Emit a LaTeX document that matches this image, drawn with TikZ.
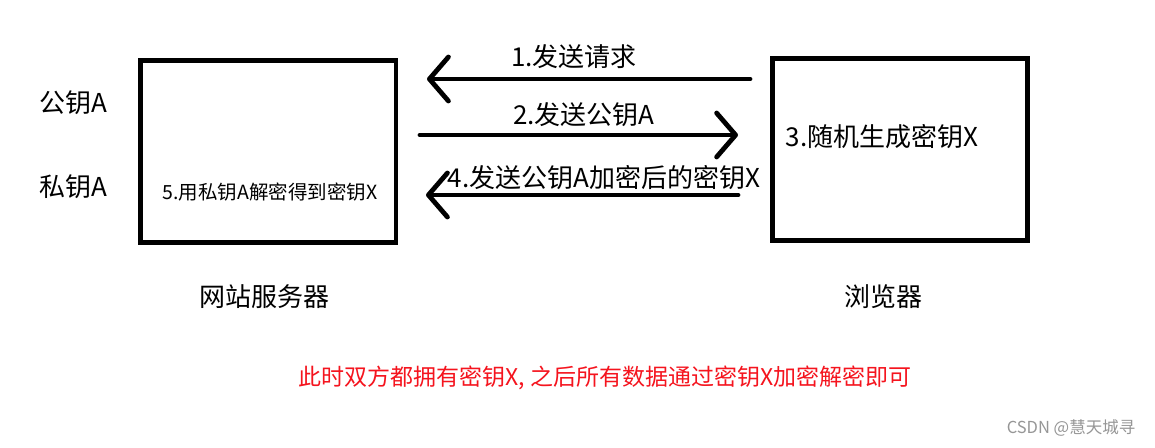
\documentclass[tikz,border=0pt]{standalone}
\usepackage{fontspec}
\setmainfont{Noto Sans CJK SC}
\usetikzlibrary{arrows.meta}
\definecolor{redtxt}{RGB}{245,20,30}
\definecolor{wmgray}{RGB}{150,150,150}
\tikzset{
  boxst/.style={draw=black, line width=4.8pt, inner sep=0pt, outer sep=0pt},
  arr/.style={draw=black, line width=4.8pt, line cap=round,
    -{Straight Barb[length=19pt,width=44pt,round]}},
  big/.style={font=\fontsize{26}{31}\selectfont, inner sep=0pt},
  mid/.style={font=\fontsize{19.5}{23}\selectfont, inner sep=0pt},
}
\begin{document}
\begin{tikzpicture}[x=1pt,y=-1pt]
\useasboundingbox (0,0) rectangle (1155,447);
\fill[white] (0,0) rectangle (1155,447);
% boxes
\node[boxst, minimum width=255.5pt, minimum height=182pt] (server) at (268.25,151.5) {};
\node[boxst, minimum width=255pt, minimum height=182pt] (browser) at (900,149.5) {};
% arrow endpoints
\coordinate (a1s) at (750,79);
\coordinate (a1e) at (427,79);
\coordinate (a2s) at (420,135);
\coordinate (a2e) at (738,135);
\coordinate (a3s) at (738,195);
\coordinate (a3e) at (426,195);
\draw[arr] (a1s) -- (a1e);
\draw[arr] (a2s) -- (a2e);
\draw[arr] (a3s) -- (a3e);
% labels
\node[big] (t1) at (574,57) {1.发送请求};
\node[big] (t2) at (584,115) {2.发送公钥A};
\node[big] (t4) at (604,178) {4.发送公钥A加密后的密钥X};
\node[mid] (t5) at (270,192) {5.用私钥A解密得到密钥X};
\node[big] (t3) at (882,137) {3.随机生成密钥X};
\node[big] (pub) at (73,103) {公钥A};
\node[big] (pri) at (73,187) {私钥A};
\node[big] (srv) at (264,297) {网站服务器};
\node[big] (brw) at (883,297) {浏览器};
\node[font=\fontsize{23}{28}\selectfont, inner sep=0pt, text=redtxt] (note) at (605,378) {此时双方都拥有密钥X, 之后所有数据通过密钥X加密解密即可};
\node[font=\fontsize{16.5}{20}\selectfont, inner sep=0pt, text=wmgray] (wm) at (1071,428) {CSDN @慧天城寻};
\end{tikzpicture}
\end{document}
